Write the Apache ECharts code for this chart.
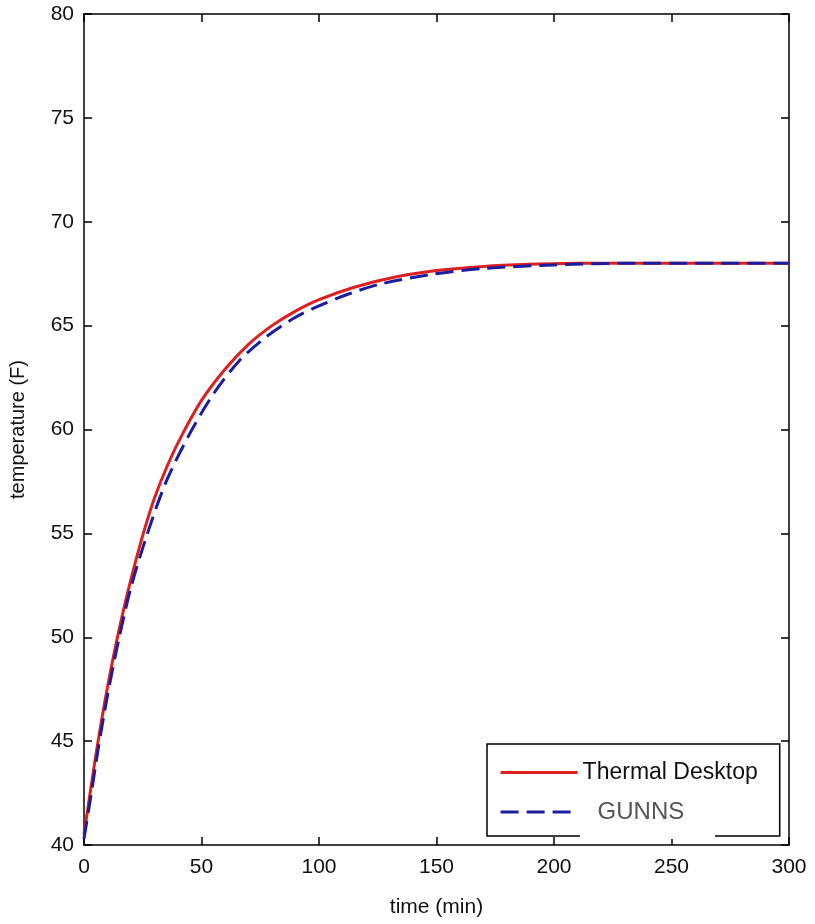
<!DOCTYPE html>
<html>
<head>
<meta charset="utf-8">
<script src="https://cdn.jsdelivr.net/npm/echarts@6/dist/echarts.min.js"></script>
<style>
  html, body { margin: 0; padding: 0; background: #fff; }
  #main { width: 815px; height: 924px; }
</style>
</head>
<body>
<div id="main"></div>
<script>
// Thermal Desktop (red, solid)
var tdTime = [0, 3, 6, 10, 15, 20, 25, 30, 36, 42, 50, 60, 70, 80, 90, 100, 115, 133, 150, 170, 190, 210, 250, 300];
var tdTemp = [40.5, 42.8, 45.0, 47.6, 50.4, 52.8, 54.9, 56.7, 58.4, 59.8, 61.4, 62.9, 64.1, 65.0, 65.7, 66.25, 66.85, 67.35, 67.65, 67.85, 67.95, 68.0, 68.0, 68.0];
// GUNNS (blue, dashed)
var gTime = [0, 3, 6, 10, 15, 20, 27, 35, 45, 55, 66, 78, 90, 100, 112, 126, 147, 170, 200, 230, 300];
var gTemp = [40.3, 42.4, 44.6, 47.2, 50.0, 52.4, 55.0, 57.5, 59.8, 61.7, 63.3, 64.5, 65.4, 65.95, 66.5, 67.0, 67.45, 67.75, 67.92, 68.0, 68.0];

var xTicks = [0, 300, 50];
var yTicks = [40, 80, 5];

function pairs(xs, ys) {
  return xs.map(function (x, i) { return [x, ys[i]]; });
}

var font = '"Liberation Sans", Arial, sans-serif';
var black = '#000';

function axisBase(showLabel, margin) {
  return {
    axisLine: { show: true, onZero: false, lineStyle: { color: black, width: 1.5 } },
    axisTick: { show: true, inside: true, length: 8, lineStyle: { color: black, width: 1.5 } },
    splitLine: { show: false },
    axisLabel: { show: showLabel, margin: margin, color: '#111', fontFamily: font, fontSize: 21 }
  };
}

var chart = echarts.init(document.getElementById('main'));

chart.setOption({
  animation: false,
  backgroundColor: '#fff',
  grid: { left: 83, right: 26, top: 14, bottom: 79, containLabel: false },
  xAxis: [
    Object.assign(axisBase(true, 12), {
      type: 'value', position: 'bottom', min: xTicks[0], max: xTicks[1], interval: xTicks[2],
      name: 'time (min)', nameLocation: 'middle', nameGap: 52,
      nameTextStyle: { color: '#111', fontFamily: font, fontSize: 21 }
    }),
    Object.assign(axisBase(false, 8), {
      type: 'value', position: 'top', min: xTicks[0], max: xTicks[1], interval: xTicks[2]
    })
  ],
  yAxis: [
    Object.assign(axisBase(true, 10), {
      type: 'value', position: 'left', min: yTicks[0], max: yTicks[1], interval: yTicks[2],
      name: 'temperature (F)', nameLocation: 'middle', nameGap: 56,
      nameTextStyle: { color: '#111', fontFamily: font, fontSize: 20 }
    }),
    Object.assign(axisBase(false, 8), {
      type: 'value', position: 'right', min: yTicks[0], max: yTicks[1], interval: yTicks[2]
    })
  ],
  legend: {
    left: 487, top: 744,
    orient: 'vertical',
    backgroundColor: '#fff',
    borderColor: black, borderWidth: 1.5, borderRadius: 0,
    padding: [17, 22, 12, 12],
    itemGap: 16,
    itemWidth: 77, itemHeight: 14,
    align: 'left',
    itemStyle: { opacity: 0 },
    lineStyle: { width: 3.2 },
    formatter: function (name) {
      return name === 'GUNNS' ? '{g|' + name + '}' : '{t|' + name + '}';
    },
    textStyle: {
      rich: {
        t: { fontFamily: font, fontSize: 23, color: '#111' },
        g: { fontFamily: font, fontSize: 24, color: '#555', padding: [0, 0, 0, 15] }
      }
    },
    data: ['Thermal Desktop', 'GUNNS']
  },
  graphic: [
    // gap in the legend frame's bottom edge, as in the reference
    { type: 'rect', left: 580, top: 833, shape: { width: 135, height: 6 }, style: { fill: '#fff' }, z: 200 }
  ],
  series: [
    {
      name: 'Thermal Desktop', type: 'line', smooth: 0.3,
      symbol: 'none',
      data: pairs(tdTime, tdTemp),
      lineStyle: { color: '#dd1f1f', width: 3 },
      itemStyle: { color: '#dd1f1f' },
      z: 3
    },
    {
      name: 'GUNNS', type: 'line', smooth: 0.3,
      symbol: 'none',
      data: pairs(gTime, gTemp),
      lineStyle: { color: '#1c1c9e', width: 3, type: [18, 8] },
      itemStyle: { color: '#1c1c9e' },
      z: 4
    }
  ]
});
</script>
</body>
</html>
